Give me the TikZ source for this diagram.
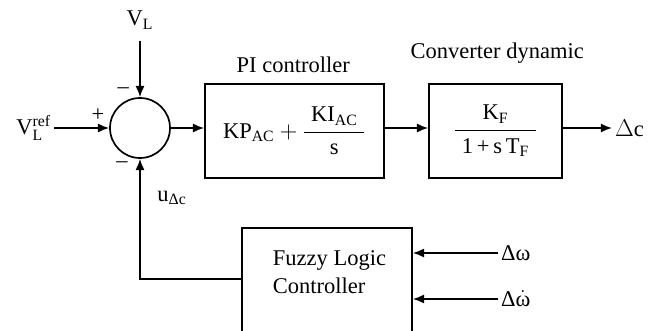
\documentclass[tikz,border=0pt]{standalone}
\usepackage{amsmath}
\usepackage{fontspec}
\setmainfont{Liberation Serif}
\usetikzlibrary{arrows.meta}
\usetikzlibrary{shapes}

\tikzset{
	block/.style={draw, line width=1.2pt, inner sep=0pt},
	arr/.style={line width=1.2pt, -{Latex[length=8pt,width=6.5pt]}},
	plain/.style={inner sep=2pt}
}

\begin{document}
\begin{tikzpicture}[font=\fontsize{16}{20}\selectfont]
		% Fixing the page to the proportions of the picture
		\useasboundingbox (0,0) rectangle (16.2,8.25);
		\clip (0,0) rectangle (16.2,8.25);
		% Summing point and its inputs
		\node[draw, circle, line width=1.2pt, minimum size=1.5cm] (sum) at (3.5,5.05) {};
		\node[plain] (vl) at (3.5,7.75) {$\text{V}_{\text{L}}$};
		\node[plain, anchor=east] (vref) at (1.35,5.05)
			{$\text{V}^{\text{ref}}_{\text{L}}$};
		\node (plus) at (2.45,5.375) {+};
		\node (mtop) at (3.08,5.975) {--};
		\node (mbot) at (3.05,4.125) {--};
		\draw[arr, shorten <=6pt] (vl) -- (sum);
		\draw[arr] (vref) -- (sum);
		% The two forward blocks
		\node[block, minimum width=4.475cm, minimum height=2.35cm] (pi) at (7.3625,4.975)
			{$\text{KP}_{\text{AC}} + \dfrac{\;\text{KI}_{\text{AC}}\;}{\text{s}}$};
		\node (pilabel) at (7.33,6.625) {PI controller};
		\node[block, minimum width=3.325cm, minimum height=2.35cm] (conv) at (12.3875,4.975)
			{$\dfrac{\text{K}_{\text{F}}}{\;\text{1\,+\,s\,T}_{\text{F}}\;}$};
		\node (convlabel) at (12.43,6.93) {Converter dynamic};
		\node[plain, anchor=west] (dc) at (15.3,5.05) {$\Delta$c};
		\draw[arr] (sum.east) -- (sum.east -| pi.west);
		\draw[arr] (sum.east -| pi.east) -- (sum.east -| conv.west);
		\draw[arr] (sum.east -| conv.east) -- (dc);
		% Fuzzy logic controller in the feedback path
		\node[block, minimum width=4.25cm, minimum height=2.9cm] (flc) at (8.175,1.1) {};
		\node[align=left, anchor=west] (flctext) at (6.7,1.45) {Fuzzy Logic\\Controller};
		\coordinate (ufb) at (6.05,1.275);
		\draw[arr] (ufb) -| (sum.south);
		\node (ulabel) at (4.3,3.3) {$\text{u}_{\text{Δc}}$};
		\node[plain, anchor=west] (dw) at (12.45,1.925) {Δω};
		\node[plain, anchor=west] (dwdot) at (12.45,0.775) {Δ$\dot{\text{ω}}$};
		\draw[arr] (dw) -- (dw -| flc.east);
		\draw[arr] (dwdot) -- (dwdot -| flc.east);
	\end{tikzpicture}
\end{document}
